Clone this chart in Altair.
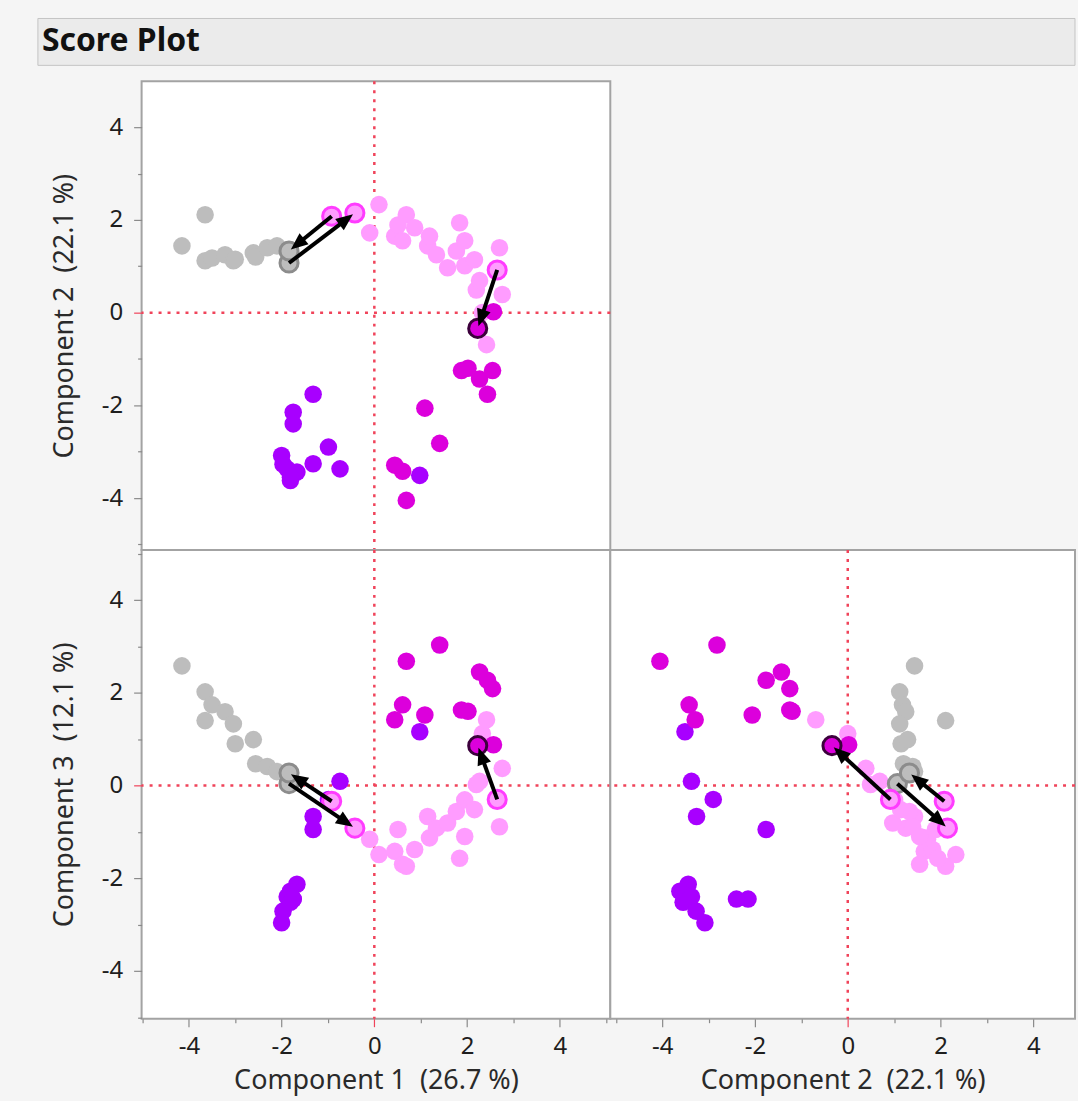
import math
import altair as alt
import pandas as pd

FONT = "Noto Sans"
RED = "#f0435a"

# ---------------- data ----------------
# (Component 1, Component 2, Component 3) scores per observation, by colour group
gray_c1 = [-4.15, -3.65, -3.65, -3.50, -3.22, -3.04, -3.00, -2.61, -2.56, -2.31, -2.10, -1.84, -1.84]
gray_c2 = [1.44, 2.11, 1.12, 1.18, 1.25, 1.12, 1.15, 1.29, 1.20, 1.40, 1.44, 1.07, 1.33]
gray_c3 = [2.58, 1.40, 2.02, 1.74, 1.59, 1.33, 0.90, 0.99, 0.47, 0.41, 0.30, 0.04, 0.27]
gray_key = ["", "", "", "", "", "", "", "", "", "", "", "G1", "G2"]

pink_c1 = [-0.92, -0.42, -0.10, 0.10, 0.44, 0.51, 0.61, 0.69, 0.87, 1.15, 1.19, 1.34, 1.58,
           1.77, 1.84, 1.95, 1.95, 2.16, 2.20, 2.27, 2.33, 2.42, 2.65, 2.70, 2.76]
pink_c2 = [2.08, 2.15, 1.72, 2.33, 1.65, 1.89, 1.55, 2.11, 1.83, 1.44, 1.65, 1.25, 0.97,
           1.33, 1.94, 1.55, 1.01, 1.14, 0.49, 0.69, 0.00, -0.69, 0.92, 1.40, 0.39]
pink_c3 = [-0.34, -0.92, -1.16, -1.49, -1.42, -0.95, -1.70, -1.74, -1.38, -0.67, -1.13, -0.92, -0.81,
           -0.56, -1.57, -1.10, -0.31, -0.52, 0.02, 0.09, 1.12, 1.42, -0.30, -0.89, 0.37]
pink_key = ["P1", "P2", "", "", "", "", "", "", "", "", "", "", "",
            "", "", "", "", "", "", "", "", "", "P3", "", ""]

purple_c1 = [0.98, -0.74, -1.32, -1.32, -0.99, -1.67, -1.81, -1.88, -1.81, -1.97, -2.00, -1.75, -1.75]
purple_c2 = [-3.51, -3.37, -3.26, -1.76, -2.90, -3.44, -3.62, -3.37, -3.55, -3.27, -3.08, -2.15, -2.40]
purple_c3 = [1.16, 0.09, -0.67, -0.95, -0.30, -2.13, -2.28, -2.40, -2.52, -2.71, -2.96, -2.45, -2.45]
purple_key = ["", "", "", "", "", "", "", "", "", "", "", "", ""]

magenta_c1 = [1.41, 0.69, 2.27, 2.44, 2.55, 0.61, 0.44, 1.09, 1.88, 2.02, 2.23, 2.57]
magenta_c2 = [-2.82, -4.05, -1.43, -1.76, -1.25, -3.42, -3.29, -2.06, -1.25, -1.20, -0.34, 0.02]
magenta_c3 = [3.03, 2.68, 2.45, 2.27, 2.09, 1.74, 1.42, 1.52, 1.63, 1.60, 0.86, 0.88]
magenta_key = ["", "", "", "", "", "", "", "", "", "", "M1", ""]

# arrows between highlighted observations
arrow_from = ["G1", "P1", "P3"]
arrow_to = ["P2", "G2", "M1"]

group_names = ["Gray", "Pink", "Purple", "Magenta"]
fill_colors = ["#bdbdbd", "#ff9cff", "#a800ff", "#dc00dc"]
ring_colors = ["#8c8c8c", "#ff3cff", "#55007a", "#3c003c"]

tick_values = [-5, -4, -3, -2, -1, 0, 1, 2, 3, 4, 5]
NB = "\u00a0"
titles = {
    "c1": "Component 1 " + NB + "(26.7 %)",
    "c2": "Component 2 " + NB + "(22.1 %)",
    "c3": "Component 3 " + NB + "(12.1 %)",
}

# ---------------- tables ----------------
frames = []
for name, a, b, c, k in [
    ("Gray", gray_c1, gray_c2, gray_c3, gray_key),
    ("Pink", pink_c1, pink_c2, pink_c3, pink_key),
    ("Purple", purple_c1, purple_c2, purple_c3, purple_key),
    ("Magenta", magenta_c1, magenta_c2, magenta_c3, magenta_key),
]:
    frames.append(pd.DataFrame({"c1": a, "c2": b, "c3": c, "key": k, "group": name}))
df = pd.concat(frames, ignore_index=True)
zero_df = pd.DataFrame({"zero": [0.0]})

fill_scale = alt.Scale(domain=group_names, range=fill_colors)
ring_scale = alt.Scale(domain=group_names, range=ring_colors)

HEAD = "M0,0L0.75,1.8L-0.75,1.8Z"


def arrow_frame(xc, yc):
    rows = []
    for a, b in zip(arrow_from, arrow_to):
        p = df.loc[df.key == a].iloc[0]
        q = df.loc[df.key == b].iloc[0]
        dx, dy = q[xc] - p[xc], q[yc] - p[yc]
        n = math.hypot(dx, dy)
        ux, uy = dx / n, dy / n
        tx, ty = q[xc] - ux * 0.05, q[yc] - uy * 0.05
        rows.append({
            "x0": p[xc], "y0": p[yc],
            "x1": tx - ux * 0.22, "y1": ty - uy * 0.22,
            "tx": tx, "ty": ty,
            "ang": math.degrees(math.atan2(dx, dy)) % 360,
        })
    return pd.DataFrame(rows)


def make_axis(orient):
    opts = dict(
        values=tick_values,
        labelExpr="datum.value % 2 === 0 ? '' + datum.value : ''",
        tickSize=8, tickWidth=1.2,
        tickColor={"condition": {"test": "datum.value === 0", "value": RED}, "value": "#8a8a8a"},
        tickDash={"condition": {"test": "datum.value % 2 !== 0", "value": [4, 20]}, "value": [20, 0]},
        domain=False, grid=False, labelOverlap=False, labelFlush=False,
        labelFont=FONT, labelFontSize=24, labelColor="#1e1e1e",
        titleFont=FONT, titleFontSize=27, titleFontWeight="normal", titleColor="#2a2a2a",
    )
    if orient == "left":
        opts.update(labelPadding=11, titlePadding=23)
    else:
        opts.update(labelPadding=8, titlePadding=9)
    return alt.Axis(**opts)


def panel(xc, yc, xdom, ydom, w, h, show_x, show_y):
    xs = alt.Scale(domain=xdom, nice=False, zero=False)
    ys = alt.Scale(domain=ydom, nice=False, zero=False)
    xa = make_axis("bottom") if show_x else None
    ya = make_axis("left") if show_y else None

    def X(f):
        return alt.X(f, type="quantitative", scale=xs, axis=xa, title=titles[xc])

    def Y(f):
        return alt.Y(f, type="quantitative", scale=ys, axis=ya, title=titles[yc])

    vrule = alt.Chart(zero_df).mark_rule(color=RED, strokeWidth=2.5, strokeDash=[3, 6]).encode(x=X("zero"))
    hrule = alt.Chart(zero_df).mark_rule(color=RED, strokeWidth=2.5, strokeDash=[3, 6]).encode(y=Y("zero"))

    pts = alt.Chart(df).mark_circle(size=310, opacity=1).encode(
        x=X(xc), y=Y(yc), color=alt.Color("group:N", scale=fill_scale, legend=None)
    )
    hl = alt.Chart(df).transform_filter("datum.key != ''").mark_circle(
        size=330, opacity=1, strokeWidth=3
    ).encode(
        x=X(xc), y=Y(yc),
        fill=alt.Fill("group:N", scale=fill_scale, legend=None),
        stroke=alt.Stroke("group:N", scale=ring_scale, legend=None),
    )
    arr = arrow_frame(xc, yc)
    lines = alt.Chart(arr).mark_rule(color="black", strokeWidth=4).encode(
        x=X("x0"), y=Y("y0"), x2=alt.X2("x1"), y2=alt.Y2("y1")
    )
    heads = alt.Chart(arr).mark_point(shape=HEAD, filled=True, color="black", opacity=1, size=360).encode(
        x=X("tx"), y=Y("ty"), angle=alt.Angle("ang:Q", scale=None)
    )
    return alt.layer(vrule, hrule, pts, hl, lines, heads).properties(width=w, height=h)


A = panel("c1", "c2", [-5.02, 5.09], [-5.12, 4.99], 470, 470, False, True)
B = panel("c1", "c3", [-5.02, 5.09], [-5.03, 5.08], 470, 470, True, True)
C = panel("c2", "c3", [-5.12, 4.90], [-5.03, 5.08], 466, 470, True, False)

tdf = pd.DataFrame({"t": ["Score Plot"]})
bar = alt.Chart(tdf).mark_rect(fill="#ebebeb", stroke="#c4c4c4", strokeWidth=1).encode(
    x=alt.value(-104), x2=alt.value(936), y=alt.value(0), y2=alt.value(47)
)
txt = alt.Chart(tdf).mark_text(
    align="left", baseline="middle", font=FONT, fontSize=32, fontWeight="bold", color="#111111"
).encode(x=alt.value(-100), y=alt.value(23), text="t:N")
header = alt.layer(bar, txt).properties(
    width=470, height=63, view=alt.ViewBackground(stroke="transparent", fill="transparent")
)

row2 = alt.hconcat(B, C, spacing=0, bounds="flush").resolve_scale(x="independent", y="independent")

chart = (
    alt.vconcat(header, A, row2, spacing=0, bounds="flush")
    .resolve_scale(x="independent", y="independent")
    .properties(padding={"left": 36, "top": 15, "right": 0, "bottom": 5}, background="#f5f5f5")
    .configure_view(stroke="#a3a3a3", strokeWidth=2, fill="white")
)

chart.save("out.html", embed_options={"renderer": "svg", "actions": False})
